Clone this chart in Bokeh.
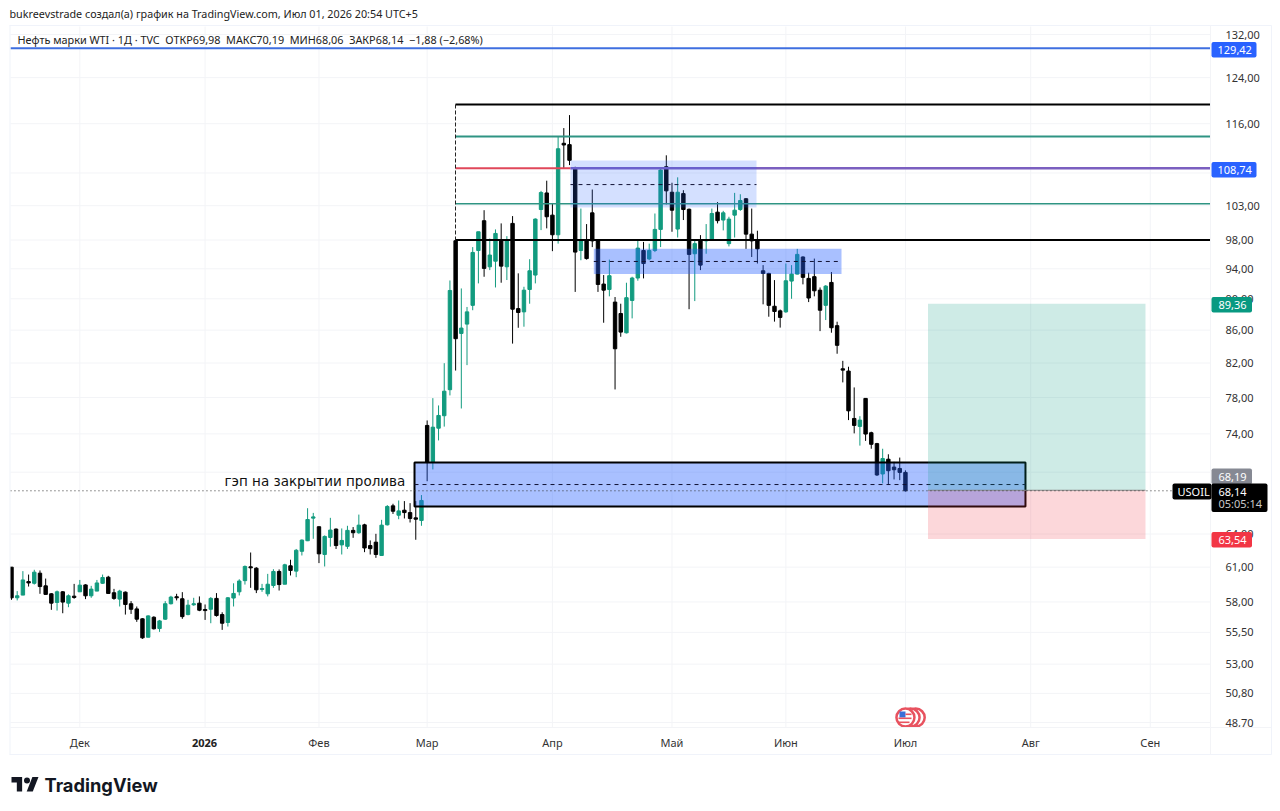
from bokeh.embed import file_html
from bokeh.resources import INLINE
from bokeh.plotting import figure
from bokeh.models import (ColumnDataSource, Range1d, FixedTicker, BoxAnnotation, Label,
                          PolyAnnotation)

OPEN = [61.00,58.35,58.58,59.74,59.59,60.47,59.37,58.69,57.96,58.86,57.90,58.49,58.86,59.45,58.52,58.92,59.59,60.12,58.78,58.24,
        58.83,57.85,57.42,56.60,55.11,56.73,55.81,56.57,57.85,58.44,58.27,56.95,57.76,57.90,57.37,57.39,58.30,56.95,56.30,58.33,
        58.86,59.82,61.03,60.91,59.06,58.69,59.40,60.62,59.51,61.12,60.65,62.42,63.38,65.49,64.68,62.13,63.68,64.46,63.00,62.87,
        64.34,64.12,64.86,62.94,63.25,62.04,64.86,66.67,65.77,66.25,66.02,65.52,65.27,
        74.91,71.03,74.61,75.97,78.89,97.90,85.59,86.76,89.15,96.52,100.78,94.27,95.04,97.97,94.27,100.39,88.73,88.31,91.22,93.15,
        102.43,104.92,101.60,98.75,112.75,112.53,108.72,96.52,98.07,101.94,97.88,91.94,91.22,89.57,88.10,85.67,89.78,92.75,96.52,
        95.35,96.52,99.52,108.98,105.03,99.57,104.82,102.47,96.07,98.07,97.88,98.07,102.04,100.88,97.49,101.60,102.43,104.04,98.84,
        97.88,93.73,93.37,89.03,88.44,88.31,92.34,93.28,95.62,92.70,92.93,91.13,89.15,92.16,86.56,81.32,81.05,75.67,74.80,77.90,
        74.12,72.96,69.82,71.33,70.52,70.38,69.98]
HIGH = [61.00,58.92,60.65,60.35,60.77,60.71,60.00,58.75,58.97,58.92,58.64,59.54,59.88,59.51,59.37,59.88,60.35,60.24,59.11,59.03,
        58.89,58.07,57.62,56.65,56.89,56.81,56.51,58.07,58.52,58.69,58.83,58.18,58.35,58.47,57.79,58.41,58.75,57.14,58.41,59.59,
        59.94,61.15,62.31,61.00,59.54,60.41,60.82,60.80,61.30,61.66,62.63,63.50,66.44,65.99,64.71,63.87,65.52,64.52,64.52,64.77,
        64.65,65.83,64.96,63.41,64.02,65.33,66.74,66.87,67.19,67.13,66.93,67.13,67.72,
        75.45,77.93,77.11,81.98,92.42,97.90,91.36,88.94,97.00,99.18,102.33,98.21,99.52,100.39,98.55,101.46,93.38,91.58,95.31,101.12,
        105.24,106.80,103.26,113.81,115.26,117.45,108.98,102.57,100.29,105.44,97.97,93.15,95.26,90.23,89.36,92.12,92.92,98.07,97.73,
        97.49,101.84,108.72,110.80,106.48,107.32,105.34,102.57,97.97,98.70,100.29,102.57,103.54,102.23,101.36,104.93,104.72,104.14,102.57,
        99.33,94.50,93.46,92.47,88.61,94.72,94.50,96.75,95.71,93.47,95.40,91.49,91.80,93.56,87.06,82.26,81.56,79.15,75.92,77.94,
        74.23,73.04,72.42,71.84,71.06,71.50,70.19]
LOW = [58.18,58.13,58.58,59.31,59.48,58.69,58.64,57.34,57.28,57.06,57.56,58.27,58.86,58.24,58.35,58.92,59.54,58.69,58.18,57.62,
       56.95,57.00,56.35,54.98,55.11,55.73,55.54,56.51,57.79,58.13,56.60,56.89,57.68,57.23,56.51,56.24,56.78,55.70,55.97,57.62,
       58.55,59.48,59.20,58.75,58.86,58.47,59.20,58.97,59.51,60.27,60.12,62.04,63.35,63.56,61.36,61.06,62.84,62.63,62.13,62.63,
       63.65,64.02,62.34,62.13,61.83,62.01,64.80,65.89,65.39,65.46,65.08,63.47,64.77,
       69.09,70.28,73.30,74.78,78.24,81.11,76.77,81.75,88.52,92.03,92.92,93.82,91.49,92.12,92.48,84.34,86.30,86.43,89.36,92.03,
       99.42,99.67,96.43,97.49,108.72,109.24,90.90,95.17,95.26,97.00,90.90,86.93,90.32,78.92,85.18,85.59,87.48,92.39,92.70,
       95.17,96.30,97.00,103.20,99.18,98.36,100.88,88.65,89.70,93.82,96.07,97.97,100.39,99.38,97.10,98.36,102.23,96.75,95.62,
       94.72,89.28,87.69,87.07,86.32,88.19,90.00,93.24,91.90,89.57,90.32,85.88,87.27,85.68,83.11,79.73,75.49,74.05,72.75,73.25,
       72.42,69.62,68.88,68.71,69.27,69.20,68.06]
CLOSE = [58.35,58.52,59.88,59.62,60.56,59.31,58.64,57.90,58.86,57.99,58.52,58.38,59.43,58.52,59.09,59.62,60.09,58.72,58.30,58.92,
         57.79,57.39,56.57,55.06,56.84,55.79,56.43,57.85,58.41,58.35,56.78,57.73,57.85,57.31,57.28,58.30,56.87,56.24,58.35,58.72,
         59.79,61.06,60.94,59.03,59.14,59.51,60.62,59.48,61.21,60.71,62.51,63.44,65.36,65.61,62.19,63.78,64.37,62.94,63.41,64.34,
         64.12,64.83,62.72,62.66,62.13,64.83,66.61,66.15,66.18,66.02,65.46,65.39,67.19,
         71.03,74.72,76.00,78.72,91.09,84.94,86.26,88.31,96.25,99.18,94.05,95.89,98.94,94.36,97.97,88.65,88.23,91.13,93.73,101.02,
         104.98,101.36,98.75,111.86,112.47,110.00,96.30,97.88,95.40,97.88,91.89,91.13,93.06,83.71,85.76,90.14,92.75,96.86,94.72,
         96.52,99.52,108.46,105.24,102.33,105.03,102.43,95.98,97.49,94.50,98.07,101.84,100.79,101.94,101.02,102.33,103.78,98.84,97.88,
         96.75,93.37,89.15,88.36,87.60,92.38,93.28,95.98,92.84,90.10,91.05,88.52,91.67,86.30,84.13,81.16,76.51,74.91,75.49,73.98,
         72.89,69.72,71.40,70.15,70.25,69.98,68.14]

PRICE_TICKS = [132, 124, 116, 103, 98, 94, 90, 86, 82, 78, 74, 64, 61, 58, 55.5, 53, 50.8, 48.7]
PRICE_LABELS = ["132,00", "124,00", "116,00", "103,00", "98,00", "94,00", "90,00", "86,00", "82,00", "78,00",
                "74,00", "64,00", "61,00", "58,00", "55,50", "53,00", "50,80", "48,70"]
GRID_PRICES = [132, 124, 116, 108, 103, 98, 94, 90, 86, 82, 78, 74, 70, 64, 61, 58, 55.5, 53, 50.8, 48.7]
MONTH_BARS = [12, 34, 54, 73, 95, 116, 136, 157, 179, 200]
MONTH_LABELS = ["Дек", "", "Фев", "Мар", "Апр", "Май", "Июн", "Июл", "Авг", "Сен"]

LEVEL_LONG_LINE = 129.42
LEVEL_TOP = 119.27
LEVEL_GREEN_HI = 113.85
LEVEL_MID = 108.74
LEVEL_GREEN_LO = 103.3
LEVEL_BASE = 98.0
TARGET, ENTRY, STOP, LAST = 89.36, 68.19, 63.54, 68.14

GREEN, BLACK = "#129b7f", "#000000"
FONT = "Noto Sans"
GRID = "#f3f4f7"

colors = [GREEN if c >= o else BLACK for o, c in zip(OPEN, CLOSE)]
idx = list(range(len(OPEN)))
src = ColumnDataSource(dict(i=idx, o=OPEN, h=HIGH, l=LOW, c=CLOSE,
                            top=[max(a, b) for a, b in zip(OPEN, CLOSE)],
                            bot=[min(a, b) for a, b in zip(OPEN, CLOSE)], col=colors))

XSTART, XEND = -0.18, 210.57       # pane edges on the bar scale
YBOTTOM, YTOP = 48.36, 133.54      # pane edges on the price scale
p = figure(width=1280, height=811, output_backend="svg", toolbar_location=None,
           x_range=Range1d(-1.932, 222.87), y_range=Range1d(42.81, 138.67),
           y_axis_type="log", y_axis_location="right",
           min_border_left=0, min_border_right=0, min_border_top=0, min_border_bottom=0)
p.outline_line_color = None
p.border_fill_color = "white"
p.xgrid.visible = False
p.ygrid.visible = False

ya = p.yaxis[0]
ya.fixed_location = XEND
ya.ticker = FixedTicker(ticks=PRICE_TICKS)
ya.major_label_overrides = dict(zip(PRICE_TICKS, PRICE_LABELS))
ya.major_tick_line_color = None
ya.minor_tick_line_color = None
ya.axis_line_color = None
ya.major_label_standoff = 9
ya.major_label_text_font = FONT
ya.major_label_text_font_size = "11px"
ya.major_label_text_color = "#333333"

xa = p.xaxis[0]
xa.fixed_location = YBOTTOM
xa.ticker = FixedTicker(ticks=MONTH_BARS)
xa.major_label_overrides = dict(zip(MONTH_BARS, MONTH_LABELS))
xa.major_tick_line_color = None
xa.minor_tick_line_color = None
xa.axis_line_color = None
xa.major_label_standoff = 2
xa.major_label_text_font = FONT
xa.major_label_text_font_size = "11px"
xa.major_label_text_color = "#333333"

# grid
p.segment([XSTART] * len(GRID_PRICES), GRID_PRICES, [XEND] * len(GRID_PRICES), GRID_PRICES, color=GRID, line_width=1)
p.segment(MONTH_BARS, [YBOTTOM] * len(MONTH_BARS), MONTH_BARS, [YTOP] * len(MONTH_BARS), color=GRID, line_width=1)

# candles
p.segment("i", "h", "i", "l", source=src, color="col", line_width=1)
p.vbar(x="i", top="top", bottom="bot", width=0.6, source=src, fill_color="col", line_color="col", line_width=1)

# horizontal levels
p.segment([XSTART], [LEVEL_LONG_LINE], [XEND], [LEVEL_LONG_LINE], color="#3f6fe0", line_width=2)
p.segment([77.98], [LEVEL_TOP], [XEND], [LEVEL_TOP], color="black", line_width=2)
p.segment([77.98], [LEVEL_GREEN_HI], [XEND], [LEVEL_GREEN_HI], color="#2f9483", line_width=2)
p.segment([77.98], [LEVEL_MID], [98.17], [LEVEL_MID], color="#e0475a", line_width=2)
p.segment([98.17], [LEVEL_MID], [XEND], [LEVEL_MID], color="#7b5fc0", line_width=2.5)
p.segment([77.98], [LEVEL_GREEN_LO], [XEND], [LEVEL_GREEN_LO], color="#2f9483", line_width=1.5)
p.segment([77.98], [LEVEL_BASE], [XEND], [LEVEL_BASE], color="black", line_width=2)
p.segment([77.98], [LEVEL_TOP], [77.98], [LEVEL_BASE], color="#222222", line_width=1, line_dash="4 2")

# zones
p.quad(left=[98.17], right=[130.84], top=[109.97], bottom=[102.73], fill_color="#2962ff", fill_alpha=0.2, line_color=None)
p.segment([98.17], [106.2], [130.84], [106.2], color="#111133", line_width=1, line_dash="4 4")
p.quad(left=[102.27], right=[145.77], top=[96.76], bottom=[93.28], fill_color="#2962ff", fill_alpha=0.4, line_color=None)
p.segment([102.27], [95.0], [145.77], [95.0], color="#111133", line_width=1, line_dash="4 4")
p.quad(left=[70.78], right=[178.08], top=[70.99], bottom=[66.61], fill_color="#2962ff", fill_alpha=0.4,
       line_color="black", line_width=2)
p.segment([70.78], [68.76], [178.08], [68.76], color="#111133", line_width=1, line_dash="4 4")

# long position
p.quad(left=[160.96], right=[199.16], top=[TARGET], bottom=[ENTRY], fill_color="#089981", fill_alpha=0.2, line_color=None)
p.quad(left=[160.96], right=[199.16], top=[ENTRY], bottom=[STOP], fill_color="#f23645", fill_alpha=0.2, line_color=None)
p.segment([160.96], [ENTRY], [199.16], [ENTRY], color="#888888", line_width=1)

# last price line
p.segment([XSTART], [LAST], [204.1], [LAST], color="#333333", line_width=1, line_dash="1 3")

# event flags
p.scatter([158.8, 157.9, 157.0], [49.05] * 3, size=18, marker="circle", fill_color="white",
          line_color="#e8525f", line_width=2.5)


def box(x0, x1, y0, y1, fill, radius=0, alpha=1.0):
    p.add_layout(BoxAnnotation(left=x0, right=x1, top=y0, bottom=y1,
                               left_units="canvas", right_units="canvas", top_units="canvas", bottom_units="canvas",
                               fill_color=fill, fill_alpha=alpha, line_color=None, border_radius=radius))


def text(x, y, s, size="11px", color="#131722", style="normal", font=FONT, align="left"):
    p.add_layout(Label(x=x, y=y, x_units="canvas", y_units="canvas", text=s, text_font=font,
                       text_font_size=size, text_color=color, text_font_style=style,
                       text_baseline="middle", text_align=align))


# flag detail on the front marker
box(899, 905, 711, 717, "#3a6fd8")
for yy in (716, 720, 724):
    box(905 if yy < 718 else 898, 911 if yy < 722 else 909, yy - 3, yy - 1.4, "#e8525f")

# chrome
box(0, 9.5, 25, 754, "#ffffff")
box(9, 1271, 24.5, 25.5, "#f0f3fa")
box(9, 1271, 753.5, 754.5, "#f0f3fa")
box(10, 1271, 726.5, 727.5, "#f3f4f7")
box(1270.5, 1271.5, 25, 754, "#f0f3fa")
box(9, 10, 25, 754, "#f0f3fa")
box(1209.5, 1210.5, 25, 754, "#f3f4f7")

text(9, 13, "bukreevstrade создал(а) график на TradingView.com, Июл 01, 2026 20:54 UTC+5", size="10.77px", color="#222222")
text(17, 39, "Нефть марки WTI · 1Д · TVC\u00a0\u00a0ОТКР69,98\u00a0\u00a0МАКС70,19\u00a0\u00a0МИН68,06\u00a0\u00a0ЗАКР68,14\u00a0\u00a0−1,88 (−2,68%)", size="10.85px", color="#222222")
text(224, 480, "гэп на закрытии пролива", size="13.5px", color="#111111", font="DejaVu Sans", style="normal")
text(204, 742, "2026", size="11px", color="#222222", style="bold", align="center")

# price tags
box(1211, 1256, 41.5, 57, "#2962ff", 2)
text(1217, 49, "129,42", color="white")
box(1211, 1256, 161.5, 177, "#2962ff", 2)
text(1217, 169.5, "108,74", color="white")
box(1211, 1251.5, 296.5, 312, "#089981", 2)
text(1218, 304.5, "89,36", color="white")
box(1211, 1251.5, 468, 484, "#868993", 2)
text(1218, 476, "68,19", color="white")
box(1172, 1211, 483, 499, "#000000", 2)
text(1177, 491, "USOIL", color="white")
box(1211, 1267, 483, 511.5, "#000000", 2)
text(1218, 491, "68,14", color="white")
text(1218, 503, "05:05:14", color="#c8c8c8")
box(1211, 1251.5, 531.5, 547, "#f23645", 2)
text(1218, 539.5, "63,54", color="white")


# TradingView logo
def logo_poly(pts):
    xs = [11 + a * 0.76 for a, b in pts]
    ys = [776.5 + (b - 4) * 0.8 for a, b in pts]
    p.add_layout(PolyAnnotation(xs=xs, ys=ys, xs_units="canvas", ys_units="canvas",
                                fill_color="#131722", fill_alpha=1, line_color=None))


logo_poly([(14, 22), (7, 22), (7, 11), (0, 11), (0, 4), (14, 4)])
logo_poly([(28, 22), (20, 22), (27.5, 4), (35.5, 4)])
box(23.5, 29.5, 777, 783, "#131722", 3)
text(44, 784, "TradingView", size="18.3px", color="#131722", font="Inter", style="bold")

open("out.html", "w").write(file_html(p, INLINE))
